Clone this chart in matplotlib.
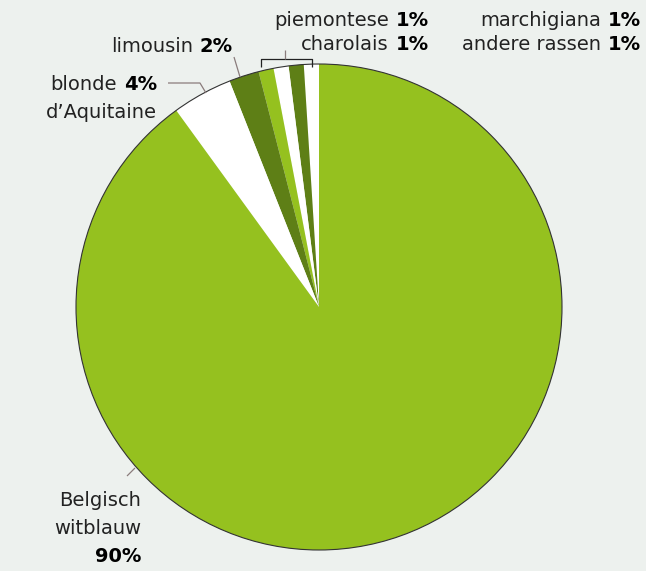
import matplotlib.pyplot as plt
from matplotlib.patches import Circle

# data, counterclockwise from the top
rassen = ['andere rassen', 'marchigiana', 'charolais', 'piemontese',
          'limousin', 'blonde d\u2019Aquitaine', 'Belgisch witblauw']
aandeel = [1, 1, 1, 1, 2, 4, 90]
kleuren = ['#ffffff', '#5e7f16', '#ffffff', '#95c11f',
           '#5e7f16', '#ffffff', '#95c11f']

W, H = 646, 571
bg = '#edf1ee'
line_c = '#8a7c7c'
font = ['DejaVu Sans']
fs = 14

fig = plt.figure(figsize=(W / 100, H / 100), dpi=100, facecolor=bg)
ax = fig.add_axes([0, 0, 1, 1])
ax.set_facecolor(bg)

cx, cy, r = 319, H - 307, 243
ax.pie(aandeel, colors=kleuren, startangle=90, counterclock=True,
       center=(cx, cy), radius=r, frame=True,
       wedgeprops=dict(linewidth=0))
ax.add_patch(Circle((cx, cy), r, fill=False, edgecolor='#333333', lw=0.8))
ax.set_xlim(0, W)
ax.set_ylim(0, H)
ax.axis('off')

renderer = fig.canvas.get_renderer()


def label(x, y, normal, bold):
    """right-aligned label: normal text followed by bold percentage"""
    yy = H - y
    t = ax.text(x, yy, bold, ha='right', va='center', fontsize=fs,
                fontweight='bold', family=font, color='black')
    w = t.get_window_extent(renderer).width
    if normal:
        ax.text(x - w - 7, yy, normal, ha='right', va='center', fontsize=fs,
                family=font, color='#222222')


def plain(x, y, s):
    ax.text(x, H - y, s, ha='right', va='center', fontsize=fs,
            family=font, color='#222222')


def seg(xs, ys, c=line_c, lw=0.9):
    ax.plot(xs, [H - v for v in ys], color=c, lw=lw, solid_capstyle='butt')


label(429, 20, 'piemontese', f'{aandeel[3]}%')
label(429, 45, 'charolais', f'{aandeel[2]}%')
label(641, 20, 'marchigiana', f'{aandeel[1]}%')
label(641, 45, 'andere rassen', f'{aandeel[0]}%')
label(233, 47, 'limousin', f'{aandeel[4]}%')
label(157, 84, 'blonde', f'{aandeel[5]}%')
plain(157, 112, 'd\u2019Aquitaine')
plain(141, 500, 'Belgisch')
plain(141, 528, 'witblauw')
label(141, 557, '', f'{aandeel[6]}%')

# leader lines
seg([168, 200, 206], [83, 83, 93])
seg([234, 240], [57, 77])
seg([127, 135], [476, 468])
seg([261, 261, 312, 312], [67, 59, 59, 67], c='#222222', lw=0.9)
seg([285, 285], [59, 50])

fig.savefig('out.png', dpi=100, facecolor=bg)
